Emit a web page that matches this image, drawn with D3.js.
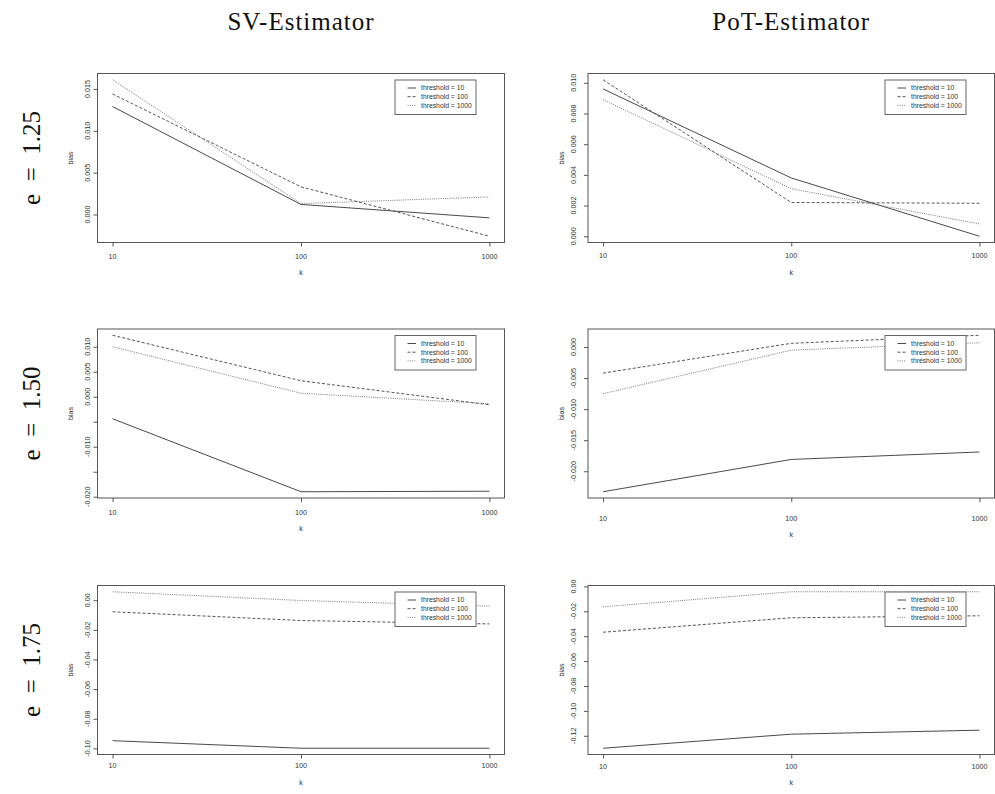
<!DOCTYPE html>
<html>
<head>
<meta charset="utf-8">
<script src="https://cdn.jsdelivr.net/npm/d3@7"></script>
<style>
  html, body { margin: 0; padding: 0; background: #fff; }
  svg { display: block; }
</style>
</head>
<body>
<svg id="chart" width="995" height="794"></svg>
<script>
// ---------------- data ----------------
const kValues = [10, 100, 1000];
const thresholdLabels = ["threshold = 10", "threshold = 100", "threshold = 1000"];
const estimatorTitles = ["SV-Estimator", "PoT-Estimator"];
const eLabels = ["e = 1.25", "e = 1.50", "e = 1.75"];

// e = 1.25
const sv125_t10   = [0.0129, 0.0012, -0.0004];
const sv125_t100  = [0.0144, 0.0033, -0.0026];
const sv125_t1000 = [0.0161, 0.0013, 0.0021];
const pot125_t10   = [0.0096, 0.0038, 0.0000];
const pot125_t100  = [0.0102, 0.0022, 0.00215];
const pot125_t1000 = [0.0089, 0.0031, 0.0008];
// e = 1.50
const sv150_t10   = [-0.0044, -0.0190, -0.0189];
const sv150_t100  = [0.0123, 0.0032, -0.0016];
const sv150_t1000 = [0.0100, 0.0007, -0.0014];
const pot150_t10   = [-0.0233, -0.0181, -0.0169];
const pot150_t100  = [-0.0042, 0.0006, 0.0019];
const pot150_t1000 = [-0.0075, -0.0005, 0.0007];
// e = 1.75
const sv175_t10   = [-0.0948, -0.0999, -0.0999];
const sv175_t100  = [-0.0078, -0.0137, -0.0160];
const sv175_t1000 = [0.0057, -0.0002, -0.0040];
const pot175_t10   = [-0.1300, -0.1187, -0.1155];
const pot175_t100  = [-0.0368, -0.0252, -0.0236];
const pot175_t1000 = [-0.0164, -0.0043, -0.0043];

// y tick values and their labels ("" = tick without label)
const sv125Ticks  = [0.000, 0.005, 0.010, 0.015];
const sv125Labels = ["0.000", "0.005", "0.010", "0.015"];
const pot125Ticks  = [0.000, 0.002, 0.004, 0.006, 0.008, 0.010];
const pot125Labels = ["0.000", "0.002", "0.004", "0.006", "0.008", "0.010"];
const sv150Ticks  = [-0.020, -0.015, -0.010, -0.005, 0.000, 0.005, 0.010];
const sv150Labels = ["-0.020", "", "-0.010", "", "0.000", "0.005", "0.010"];
const pot150Ticks  = [-0.020, -0.015, -0.010, -0.005, 0.000];
const pot150Labels = ["-0.020", "-0.015", "-0.010", "-0.005", "0.000"];
const sv175Ticks  = [-0.10, -0.08, -0.06, -0.04, -0.02, 0.00];
const sv175Labels = ["-0.10", "-0.08", "-0.06", "-0.04", "-0.02", "0.00"];
const pot175Ticks  = [-0.12, -0.10, -0.08, -0.06, -0.04, -0.02, 0.00];
const pot175Labels = ["-0.12", "-0.10", "-0.08", "-0.06", "-0.04", "-0.02", "0.00"];
const xTickLabels = ["10", "100", "1000"];

// ---------------- layout ----------------
const colX = [97.5, 588];          // box left per column
const boxW = [407, 406.5];
const rowY = [73.5, 329, 585.5];   // box top per row
const boxH = 169;
const yLabOff = [8, 12];           // y tick-label baseline offset per column
const xLabOffRow = [[16, 15.5], [16.5, 23], [13.5, 14]]; // x tick label baseline offset
const kOffRow = [[32.5, 32], [32.5, 38.5], [30, 30]];

const panels = [
  {row: 0, col: 0, series: [sv125_t10, sv125_t100, sv125_t1000], ticks: sv125Ticks, labels: sv125Labels},
  {row: 0, col: 1, series: [pot125_t10, pot125_t100, pot125_t1000], ticks: pot125Ticks, labels: pot125Labels},
  {row: 1, col: 0, series: [sv150_t10, sv150_t100, sv150_t1000], ticks: sv150Ticks, labels: sv150Labels},
  {row: 1, col: 1, series: [pot150_t10, pot150_t100, pot150_t1000], ticks: pot150Ticks, labels: pot150Labels},
  {row: 2, col: 0, series: [sv175_t10, sv175_t100, sv175_t1000], ticks: sv175Ticks, labels: sv175Labels},
  {row: 2, col: 1, series: [pot175_t10, pot175_t100, pot175_t1000], ticks: pot175Ticks, labels: pot175Labels}
];

const lineStyles = [
  {stroke: "#4a4a4a", dash: null, width: 1},
  {stroke: "#555", dash: "3,2", width: 1},
  {stroke: "#7a7a7a", dash: "1,1.2", width: 1}
];

const svg = d3.select("#chart");
const sans = "'Liberation Sans', Arial, Helvetica, sans-serif";
const serif = "'Liberation Serif', 'Times New Roman', serif";

// Titles
estimatorTitles.forEach((t, i) => {
  svg.append("text")
    .attr("x", colX[i] + boxW[i] / 2)
    .attr("y", 30)
    .attr("text-anchor", "middle")
    .attr("font-family", serif)
    .attr("font-size", 25)
    .attr("letter-spacing", 1.0)
    .attr("fill", "#111")
    .text(t);
});
eLabels.forEach((t, i) => {
  const cy = rowY[i] + boxH / 2;
  svg.append("text")
    .attr("transform", `translate(40,${cy}) rotate(-90)`)
    .attr("text-anchor", "middle")
    .attr("font-family", serif)
    .attr("font-size", 25)
    .style("white-space", "pre")
    .attr("fill", "#111")
    .text(t.replace(" = ", "  =  "));
});

// R-style axis extent: 4% padding on each side
function rRange(lo, hi) { const d = (hi - lo) * 0.04; return [lo - d, hi + d]; }

panels.forEach(p => {
  const x0 = colX[p.col], y0 = rowY[p.row], w = boxW[p.col], h = boxH;
  const g = svg.append("g").attr("transform", `translate(${x0},${y0})`);

  const lx = rRange(Math.log10(d3.min(kValues)), Math.log10(d3.max(kValues)));
  const x = d3.scaleLog().domain([Math.pow(10, lx[0]), Math.pow(10, lx[1])]).range([0, w]);
  const all = p.series.flat();
  const ly = rRange(d3.min(all), d3.max(all));
  const y = d3.scaleLinear().domain(ly).range([h, 0]);

  // series lines
  const line = d3.line().x((d, i) => x(kValues[i])).y(d => y(d));
  p.series.forEach((s, i) => {
    const st = lineStyles[i];
    g.append("path")
      .datum(s)
      .attr("d", line)
      .attr("fill", "none")
      .attr("stroke", st.stroke)
      .attr("stroke-width", st.width)
      .attr("stroke-dasharray", st.dash);
  });

  // x axis
  const xAxis = d3.axisBottom(x).tickValues(kValues).tickSize(4).tickFormat("");
  const gx = g.append("g").attr("transform", `translate(0,${h})`).call(xAxis);
  gx.select(".domain").remove();
  gx.selectAll("line").attr("stroke", "#555");
  kValues.forEach((k, i) => {
    g.append("text")
      .attr("x", x(k)).attr("y", h + xLabOffRow[p.row][p.col])
      .attr("text-anchor", "middle")
      .attr("font-family", sans).attr("font-size", 7.2).attr("fill", "#333")
      .text(xTickLabels[i]);
  });
  g.append("text")
    .attr("x", w / 2).attr("y", h + kOffRow[p.row][p.col])
    .attr("text-anchor", "middle")
    .attr("font-family", sans).attr("font-size", 7.2).attr("fill", "#333")
    .text("k");

  // y axis
  const yAxis = d3.axisLeft(y).tickValues(p.ticks).tickSize(4).tickFormat("");
  const gy = g.append("g").call(yAxis);
  gy.select(".domain").remove();
  gy.selectAll("line").attr("stroke", "#555");
  p.ticks.forEach((v, i) => {
    if (!p.labels[i]) return;
    g.append("text")
      .attr("transform", `translate(${-yLabOff[p.col]},${y(v)}) rotate(-90)`)
      .attr("text-anchor", "middle")
      .attr("font-family", sans).attr("font-size", 7.2).attr("fill", "#333")
      .text(p.labels[i]);
  });
  g.append("text")
    .attr("transform", `translate(-24.5,${h / 2}) rotate(-90)`)
    .attr("text-anchor", "middle")
    .attr("font-family", sans).attr("font-size", 7.2).attr("fill", "#333")
    .text("bias");

  // box
  g.append("rect").attr("x", 0).attr("y", 0).attr("width", w).attr("height", h)
    .attr("fill", "none").attr("stroke", "#555").attr("stroke-width", 1);

  // legend
  const lw = 81, lh = 34.5;
  const lg = g.append("g").attr("transform", `translate(${w - 28.5 - lw},${6.5})`);
  lg.append("rect").attr("width", lw).attr("height", lh)
    .attr("fill", "#fff").attr("stroke", "#666").attr("stroke-width", 1);
  thresholdLabels.forEach((t, i) => {
    const ry = 8 + i * 8.7;
    const st = lineStyles[i];
    lg.append("line")
      .attr("x1", 12.5).attr("x2", 21).attr("y1", ry).attr("y2", ry)
      .attr("stroke", st.stroke).attr("stroke-width", st.width)
      .attr("stroke-dasharray", st.dash);
    lg.append("text")
      .attr("x", 26).attr("y", ry + 2.4)
      .attr("font-family", sans).attr("font-size", 6.8).attr("fill", "#333")
      .text(t);
  });
});
</script>
</body>
</html>
